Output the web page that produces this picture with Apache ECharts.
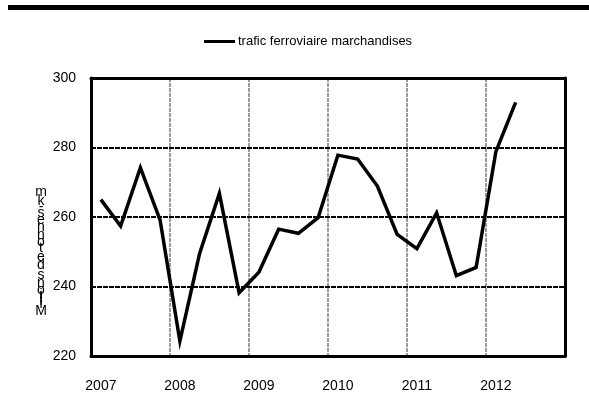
<!DOCTYPE html>
<html><head><meta charset="utf-8">
<script src="https://cdn.jsdelivr.net/npm/echarts@6/dist/echarts.min.js"></script>
<style>html,body{margin:0;padding:0;background:#fff}#c{width:589px;height:404px}</style>
</head><body><div id="c"></div>
<script>
const quarters = [
  '2007 T1','2007 T2','2007 T3','2007 T4',
  '2008 T1','2008 T2','2008 T3','2008 T4',
  '2009 T1','2009 T2','2009 T3','2009 T4',
  '2010 T1','2010 T2','2010 T3','2010 T4',
  '2011 T1','2011 T2','2011 T3','2011 T4',
  '2012 T1','2012 T2','2012 T3','2012 T4'
];
const yearLabels = ['2007','2008','2009','2010','2011','2012'];
const seriesName = 'trafic ferroviaire marchandises';
const fretValues = [265.0, 257.4, 274.2, 259.1, 224.3, 249.5, 266.8, 238.2,
  244.1, 256.5, 255.3, 259.8, 277.8, 276.7, 268.9, 255.0,
  250.9, 261.2, 243.1, 245.5, 278.8, 293.0];
const yTicks = {min: 220, max: 300, step: 20};
const yName = 'Millions de tonnes-km';

const FAMILY = '"Liberation Sans", Arial, sans-serif';

// stacked upright letters for the y-axis title (rotated text with upright glyphs)
function buildYName() {
  const cv = document.createElement('canvas').getContext('2d');
  const fs = 14;
  cv.font = fs + 'px ' + FAMILY;
  const chars = yName.split('');
  const adv = chars.map(c => cv.measureText(c).width);
  const total = adv.reduce((a, b) => a + b, 0);
  const span = 130;
  const k = span / total;
  const bottom = 317;
  const cx = 41;
  const els = [];
  let y = bottom;
  chars.forEach((c, i) => {
    const h = adv[i] * k;
    const mid = y - h / 2;
    y -= h;
    if (c === ' ') return;
    els.push({
      type: 'text', x: cx, y: mid,
      style: {text: c, fontSize: fs, fontFamily: FAMILY, fill: '#000', align: 'center', verticalAlign: 'middle'}
    });
  });
  return els;
}

const chart = echarts.init(document.getElementById('c'), null, {renderer: 'canvas'});
chart.setOption({
  animation: false,
  backgroundColor: '#fff',
  grid: {left: 91, right: 24, top: 78, bottom: 48, containLabel: false},
  legend: {
    data: [seriesName], left: 204, top: 35, padding: 0, itemWidth: 31, itemHeight: 3, icon: 'rect', itemGap: 0,
    itemStyle: {color: '#000'},
    textStyle: {fontFamily: FAMILY, fontSize: 13, color: '#000', padding: [0, 0, 0, -2]}
  },
  xAxis: [{
    type: 'category', data: quarters, boundaryGap: true, z: 1,
    axisLine: {show: true, lineStyle: {color: '#000', width: 3}},
    axisTick: {show: false, interval: 3},
    axisLabel: {interval: 3, margin: 23, fontFamily: FAMILY, fontSize: 14, color: '#000',
      formatter: (v, i) => yearLabels[Math.floor(i / 4)]},
    splitLine: {show: true, interval: 3, lineStyle: {color: '#9a9a9a', width: 2, type: [4, 1]}}
  }, {
    type: 'category', data: quarters, position: 'top', z: 3,
    axisLine: {show: true, lineStyle: {color: '#000', width: 3}},
    axisTick: {show: false}, axisLabel: {show: false}, splitLine: {show: false}
  }],
  yAxis: [{
    type: 'value', min: yTicks.min, max: yTicks.max, interval: yTicks.step, z: 2,
    axisLine: {show: true, lineStyle: {color: '#000', width: 3}},
    axisTick: {show: false},
    axisLabel: {margin: 15, fontFamily: FAMILY, fontSize: 14, color: '#000'},
    splitLine: {show: true, lineStyle: {color: '#000', width: 2, type: [5, 1]}}
  }, {
    type: 'value', min: yTicks.min, max: yTicks.max, interval: yTicks.step, position: 'right', z: 3,
    axisLine: {show: true, lineStyle: {color: '#000', width: 3}},
    axisTick: {show: false}, axisLabel: {show: false}, splitLine: {show: false}
  }],
  series: [{
    name: seriesName, type: 'line', data: fretValues, z: 10,
    symbol: 'none', showSymbol: false,
    lineStyle: {color: '#000', width: 3.5, join: 'miter'},
    itemStyle: {color: '#000'}
  }],
  graphic: [
    {type: 'rect', left: 8, top: 5, shape: {width: 581, height: 5}, style: {fill: '#000'}},
    {type: 'group', children: buildYName()}
  ]
});
</script></body></html>
